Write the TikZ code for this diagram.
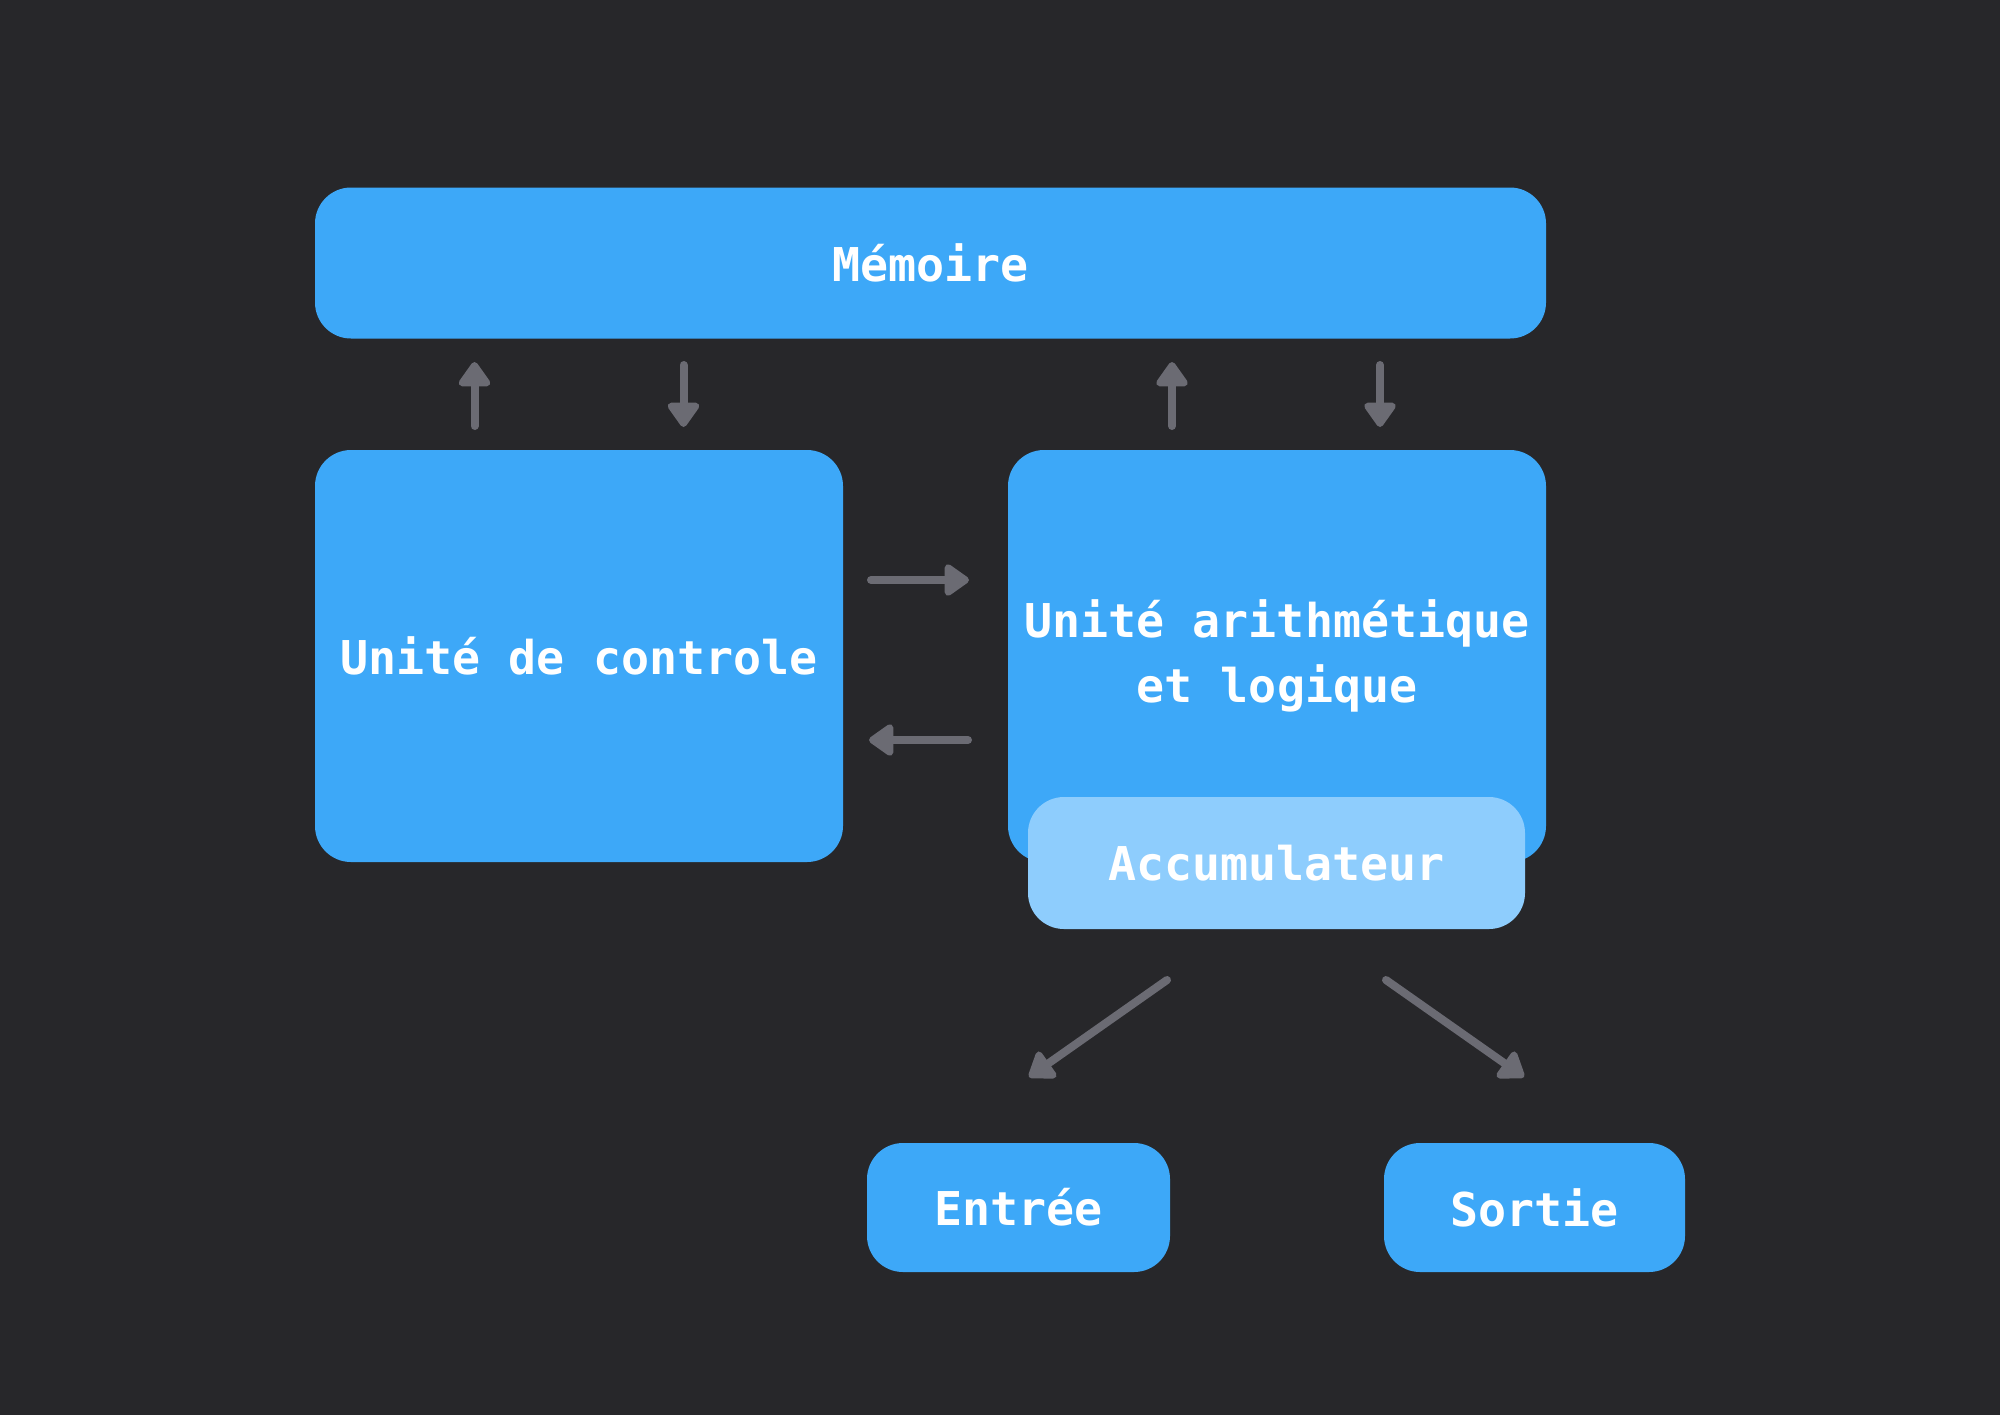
\documentclass[tikz,border=0pt]{standalone}
\usepackage{fontspec}
\setmonofont{DejaVu Sans Mono}
\usetikzlibrary{arrows.meta}
\definecolor{bg}{HTML}{27272A}
\definecolor{boxblue}{HTML}{3DA8F8}
\definecolor{accblue}{HTML}{8ECDFD}
\definecolor{arrowgray}{HTML}{6B6B73}
\begin{document}
\begin{tikzpicture}[x=1pt,y=-1pt,
  box/.style={rectangle, rounded corners=36pt, fill=boxblue, inner sep=0pt, text=white,
    font=\ttfamily\bfseries\fontsize{46.6}{65}\selectfont, align=center},
  conn/.style={draw=arrowgray, line width=8pt, line cap=round,
    -{Triangle[round,length=27pt,width=36pt]}}]
\useasboundingbox (0,0) rectangle (2000,1414);
\fill[bg] (-10,-10) rectangle (2010,1424);
% boxes
\node[box, minimum width=1231pt, minimum height=151pt] (mem) at (930.5,263) {Mémoire};
\node[box, minimum width=528pt, minimum height=412pt] (uc) at (579,656) {Unité de controle};
\node[box, minimum width=538pt, minimum height=412pt] (ual) at (1277,656) {Unité arithmétique\\et logique};
\node[box, fill=accblue, minimum width=497pt, minimum height=132pt] (acc) at (1276.5,863) {Accumulateur};
\node[box, minimum width=303pt, minimum height=129pt] (in) at (1018.5,1207.5) {Entrée};
\node[box, minimum width=301pt, minimum height=129pt] (out) at (1534.5,1207.5) {Sortie};
% arrow end points
\coordinate (m1s) at (474.5,426);  \coordinate (m1e) at (474.5,362);
\coordinate (m2s) at (683.5,365);  \coordinate (m2e) at (683.5,427);
\coordinate (m3s) at (1172,426);   \coordinate (m3e) at (1172,362);
\coordinate (m4s) at (1380,365);   \coordinate (m4e) at (1380,427);
\coordinate (h1s) at (871,580);    \coordinate (h1e) at (969,580);
\coordinate (h2s) at (968,740);    \coordinate (h2e) at (869,740);
\coordinate (d1s) at (1167,980);   \coordinate (d1e) at (1029,1077);
\coordinate (d2s) at (1386,980);   \coordinate (d2e) at (1524,1077);
% connectors
\draw[conn] (m1s) -- (m1e);
\draw[conn] (m2s) -- (m2e);
\draw[conn] (m3s) -- (m3e);
\draw[conn] (m4s) -- (m4e);
\draw[conn] (h1s) -- (h1e);
\draw[conn] (h2s) -- (h2e);
\draw[conn] (d1s) -- (d1e);
\draw[conn] (d2s) -- (d2e);
\end{tikzpicture}
\end{document}
